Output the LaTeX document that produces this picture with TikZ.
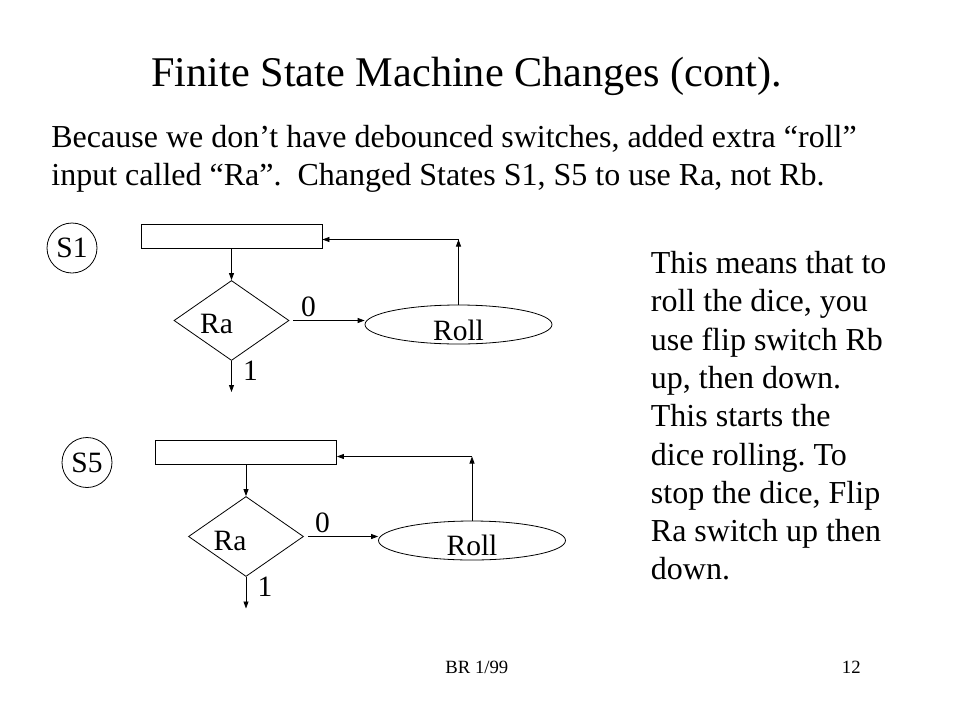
\documentclass[tikz,border=0pt]{standalone}
\usepackage{fontspec}
\setmainfont{Liberation Serif}
\usetikzlibrary{shapes.geometric,arrows.meta}
\frenchspacing

\newcommand{\titlesize}{\fontsize{42.3}{51}\selectfont}
\newcommand{\bodysize}{\fontsize{32}{38.3}\selectfont}
\newcommand{\chartsize}{\fontsize{29.5}{34}\selectfont}
\newcommand{\footsize}{\fontsize{18.7}{22}\selectfont}

\begin{document}
\begin{tikzpicture}[x=1pt,y=-1pt,
    line width=0.8pt,
    flow/.style={-{Triangle[length=7pt,width=5pt]}},
    statecirc/.style={circle,draw,minimum size=50pt,inner sep=0pt,font=\chartsize},
    actbox/.style={rectangle,draw,minimum width=181pt,minimum height=24pt,inner sep=0pt},
    testbox/.style={diamond,draw,minimum width=115pt,minimum height=80pt,inner sep=0pt},
    rollbox/.style={ellipse,draw,minimum width=187pt,minimum height=39pt,inner sep=0pt},
    chartlbl/.style={font=\chartsize,inner sep=0pt}]

        \useasboundingbox (0,0) rectangle (960,720);
        %\draw [help lines,step=20] (0,0) grid (960,720);

        \node[anchor=base west,font=\titlesize,inner sep=0pt] (title) at (151,86.5)
            {Finite State Machine Changes (cont).};

        \node[anchor=base west,font=\bodysize,inner sep=0pt] (introa) at (51,147.5)
            {Because we don't have debounced switches, added extra “roll”};
        \node[anchor=base west,font=\bodysize,inner sep=0pt] (introb) at (51,185.5)
            {input called “Ra”.\ \ Changed States S1, S5 to use Ra, not Rb.};

        % state S1
        \node[statecirc] (s1) at (72,248) {S1};
        \node[actbox] (act1) at (231.5,236) {};
        \node[testbox] (test1) at (231.5,320.5) {};
        \node[rollbox] (roll1) at (458.5,324.5) {};
        \node[chartlbl] (ra1) at (216.5,323.5) {Ra};
        \node[chartlbl] (rolltxt1) at (458.5,330) {Roll};
        \node[chartlbl] (zero1) at (308.5,306.5) {0};
        \node[chartlbl] (one1) at (250.5,370.5) {1};
        \coordinate (up1) at (458.5,239.5);
        \coordinate (out1) at (231.5,392);

        \draw [flow] (act1.south) -- (test1.north);
        \draw [flow,shorten <=4pt] (test1.east) -- (test1.east -| roll1.west);
        \draw [flow] (roll1.north) -- (up1);
        \draw [flow] (up1) -- (up1 -| act1.east);
        \draw [flow] (test1.south) -- (out1);

        % state S5
        \node[statecirc] (s5) at (87,462.5) {S5};
        \node[actbox] (act5) at (246,452.5) {};
        \node[testbox] (test5) at (246,536.5) {};
        \node[rollbox] (roll5) at (472,540.5) {};
        \node[chartlbl] (ra5) at (230,540.5) {Ra};
        \node[chartlbl] (rolltxt5) at (472,545.5) {Roll};
        \node[chartlbl] (zero5) at (322.5,523) {0};
        \node[chartlbl] (one5) at (265,586.5) {1};
        \coordinate (up5) at (472,456.5);
        \coordinate (out5) at (246,608.5);

        \draw [flow] (act5.south) -- (test5.north);
        \draw [flow,shorten <=4pt] (test5.east) -- (test5.east -| roll5.west);
        \draw [flow] (roll5.north) -- (up5);
        \draw [flow] (up5) -- (up5 -| act5.east);
        \draw [flow] (test5.south) -- (out5);

        % note on the right
        \foreach \ln [count=\i] in {This means that to,{roll the dice, you},
            use flip switch Rb,{up, then down.},This starts the,
            dice rolling. To,{stop the dice, Flip},Ra switch up then,down.}
            \node[anchor=base west,font=\bodysize,inner sep=0pt] (note\i) at (650.5,{273.5+38.3*(\i-1)}) {\ln};

        \node[anchor=base west,font=\footsize,inner sep=0pt] (date) at (445,673) {BR 1/99};
        \node[anchor=base east,font=\footsize,inner sep=0pt] (page) at (861,673) {12};

\end{tikzpicture}
\end{document}
